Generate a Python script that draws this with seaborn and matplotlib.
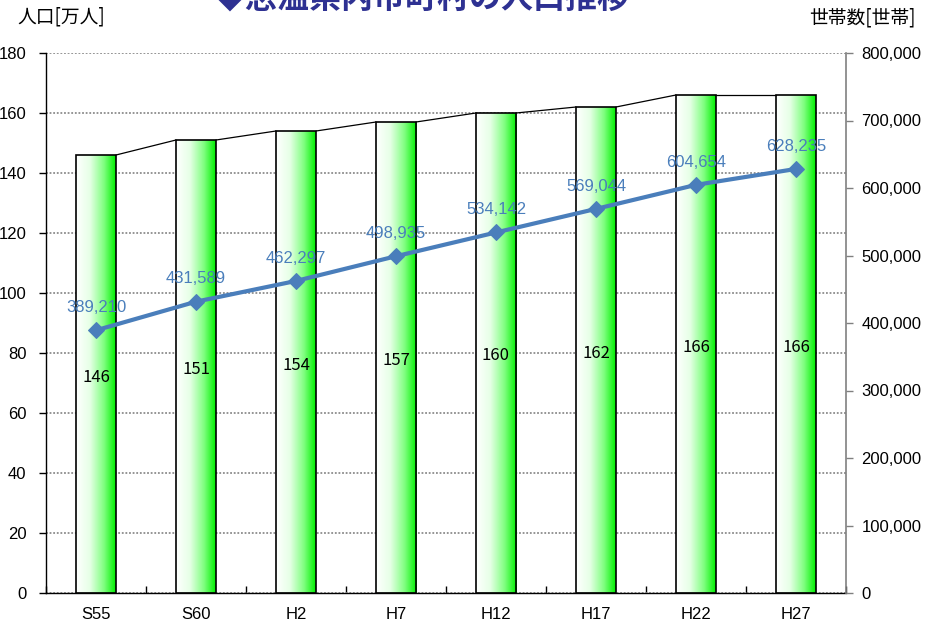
import numpy as np
import pandas as pd
import matplotlib
matplotlib.use("Agg")
import matplotlib.pyplot as plt
from matplotlib.colors import LinearSegmentedColormap
from matplotlib.ticker import FuncFormatter, MultipleLocator
import seaborn as sns

# ---- data ----
categories = ["S55", "S60", "H2", "H7", "H12", "H17", "H22", "H27"]
population = [146, 151, 154, 157, 160, 162, 166, 166]          # 万人
households = [389210, 431589, 462297, 498935, 534142, 569044, 604654, 628235]  # 世帯
title_text = "◆志温県内市町村の人口推移"
left_label = "人口[万人]"
right_label = "世帯数[世帯]"

sns.set_theme(style="white")
plt.rcParams["font.family"] = ["Liberation Sans", "Noto Sans CJK JP", "DejaVu Sans"]
plt.rcParams["text.color"] = "black"
plt.rcParams["xtick.labelcolor"] = "black"
plt.rcParams["ytick.labelcolor"] = "black"

W, H = 926, 627
fig = plt.figure(figsize=(W / 100, H / 100), dpi=100)
ax = fig.add_axes([46 / W, (H - 593) / H, 800 / W, 540 / H])

df = pd.DataFrame({"cat": categories, "pop": population, "hh": households})

sns.barplot(data=df, x="cat", y="pop", ax=ax, width=0.4, color="white",
            edgecolor="black", linewidth=1.2, zorder=3)

cmap = LinearSegmentedColormap.from_list(
    "g", [(0.0, "#ffffff"), (0.35, "#e6ffe6"), (0.7, "#80ff80"), (1.0, "#00f000")])
grad = np.linspace(0, 1, 256).reshape(1, -1)
for p in ax.patches:
    x0, y0 = p.get_x(), p.get_y()
    w, h = p.get_width(), p.get_height()
    im = ax.imshow(grad, extent=[x0, x0 + w, y0, y0 + h], aspect="auto",
                   cmap=cmap, zorder=2.5, interpolation="bicubic")
    im.set_clip_path(p)
    p.set_facecolor("none")

# series lines between bar tops
for i in range(len(population) - 1):
    ax.plot([i + 0.2, i + 0.8], [population[i], population[i + 1]],
            color="black", lw=0.9, zorder=3)

# bar value labels at bar centers
for i, v in enumerate(population):
    ax.text(i, v / 2 - 1, str(v), ha="center", va="center", fontsize=12,
            color="black", family=["Noto Sans CJK JP"], zorder=5)

ax.set_xlim(-0.5, len(categories) - 0.5)
ax.set_ylim(0, 180)
ax.yaxis.set_major_locator(MultipleLocator(20))
ax.set_xlabel("")
ax.set_ylabel("")
ax.yaxis.grid(True, linestyle=(0, (1, 1)), color="#8c8c8c", linewidth=1.3, zorder=0)
ax.set_axisbelow(True)
ax.xaxis.grid(False)
ax.spines["top"].set_visible(False)
ax.spines["right"].set_visible(False)
ax.spines["left"].set_color("black")
ax.spines["bottom"].set_color("black")
ax.spines["left"].set_linewidth(1.0)
ax.spines["bottom"].set_linewidth(1.0)
ax.tick_params(axis="y", direction="out", length=5, width=1, color="black",
               labelsize=12, pad=9, left=True, labelcolor="black")
ax.tick_params(axis="x", which="major", length=0, labelsize=12, pad=10, labelcolor="black")
ax.set_xticks(np.arange(-0.5, len(categories), 1.0), minor=True)
ax.tick_params(axis="x", which="minor", direction="in", length=5, width=1,
               color="black", bottom=True)

# line on secondary axis
ax2 = ax.twinx()
ax2.set_position(ax.get_position())
line_color = "#4a7ebb"
sns.lineplot(x=np.arange(len(categories)), y=households, ax=ax2, color=line_color,
             lw=3, marker="D", markersize=8, markeredgecolor=line_color, zorder=6)
for i, v in enumerate(households):
    ax2.annotate(f"{v:,}", (i, v), xytext=(0, 11), textcoords="offset points",
                 ha="center", va="bottom", fontsize=12, color=line_color)
ax2.set_ylim(0, 800000)
ax2.set_xlim(-0.5, len(categories) - 0.5)
ax2.yaxis.set_major_locator(MultipleLocator(100000))
ax2.yaxis.set_major_formatter(FuncFormatter(lambda v, p: f"{int(v):,}"))
ax2.set_ylabel("")
ax2.grid(False)
for s in ["top", "left", "bottom"]:
    ax2.spines[s].set_visible(False)
ax2.spines["right"].set_color("#808080")
ax2.spines["right"].set_linewidth(1.2)
ax2.tick_params(axis="y", direction="out", length=5, width=1, color="#808080",
                labelsize=12, pad=6, right=True, labelcolor="black")

# axis titles
fig.text(17 / W, 1 - 17 / H, left_label, ha="left", va="center", fontsize=13.5,
         family=["Noto Sans CJK JP"], color="black")
fig.text(916 / W, 1 - 18 / H, right_label, ha="right", va="center", fontsize=13.5,
         family=["Noto Sans CJK JP"], color="black")

# title (clipped at the top edge, as in the reference)
fig.text(422 / W, 1 - 9 / H, title_text, ha="center", va="baseline", fontsize=23,
         fontweight="bold", color="#2e3192", family=["Noto Sans CJK JP"])

fig.savefig("out.png", dpi=100)
